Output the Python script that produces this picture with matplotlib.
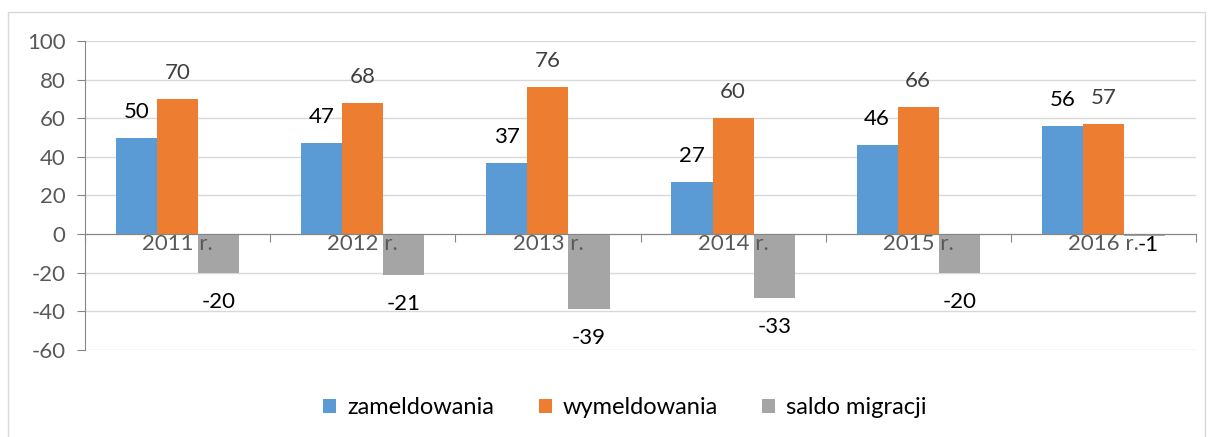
import matplotlib.pyplot as plt
from matplotlib.patches import Rectangle

years = ['2011 r.', '2012 r.', '2013 r.', '2014 r.', '2015 r.', '2016 r.']
zameldowania = [50, 47, 37, 27, 46, 56]
wymeldowania = [70, 68, 76, 60, 66, 57]
saldo = [-20, -21, -39, -33, -20, -1]

series = ['zameldowania', 'wymeldowania', 'saldo migracji']
colors = ['#5B9BD5', '#ED7D31', '#A5A5A5']
label_colors = ['black', '#404040', 'black']

plt.rcParams['font.family'] = ['Lato', 'DejaVu Sans']
plt.rcParams['axes.unicode_minus'] = False

fig = plt.figure(figsize=(12.13, 4.37), dpi=100)
fig.patches.append(Rectangle((8 / 1213, -0.01), 1197 / 1213, 1 - 12 / 437 + 0.01,
                             transform=fig.transFigure, fill=False,
                             edgecolor='#D9D9D9', linewidth=1))
ax = fig.add_axes([85 / 1213, 1 - 350 / 437, (1196 - 85) / 1213, (350 - 41) / 437])

w = 0.222
x = range(len(years))
for i, (vals, name) in enumerate(zip([zameldowania, wymeldowania, saldo], series)):
    pos = [xi + (i - 1) * w for xi in x]
    ax.bar(pos, vals, width=w, color=colors[i], label=name, zorder=2)
    for p, v in zip(pos, vals):
        if v >= 0:
            off = 26
        elif v > -5:
            off = -9
        else:
            off = -29
        ax.annotate(str(v), (p, v), xytext=(4 if -5 < v < 0 else 0, off),
                    textcoords='offset pixels', ha='center', va='center',
                    fontsize=16, color=label_colors[i], zorder=5)

for xi, yr in zip(x, years):
    ax.annotate(yr, (xi, 0), xytext=(0, -10), textcoords='offset pixels',
                ha='center', va='center', fontsize=16, color='#595959', zorder=4)

ax.set_xlim(-0.5, len(years) - 0.5)
ax.set_ylim(-60, 100)
ax.set_yticks(range(-60, 101, 20))
ax.set_xticks([b - 0.5 for b in range(len(years) + 1)])
ax.set_xticklabels([])
ax.tick_params(axis='x', length=6, color='#868686', direction='out')
ax.tick_params(axis='y', length=6, color='#868686', labelsize=16,
               labelcolor='#595959', pad=8)
ax.grid(axis='y', color='#D9D9D9', linewidth=1)
ax.set_axisbelow(True)

for s in ['top', 'right']:
    ax.spines[s].set_visible(False)
ax.spines['bottom'].set_position(('data', 0))
ax.spines['bottom'].set_color('#868686')
ax.spines['bottom'].set_zorder(3)
ax.spines['left'].set_color('#868686')

fig.legend(loc='center', bbox_to_anchor=(625 / 1213, 1 - 408 / 437), ncol=3,
           frameon=False, fontsize=17, handlelength=0.55, handleheight=0.55,
           handletextpad=0.45, columnspacing=1.9)

fig.savefig('out.png', dpi=100)
